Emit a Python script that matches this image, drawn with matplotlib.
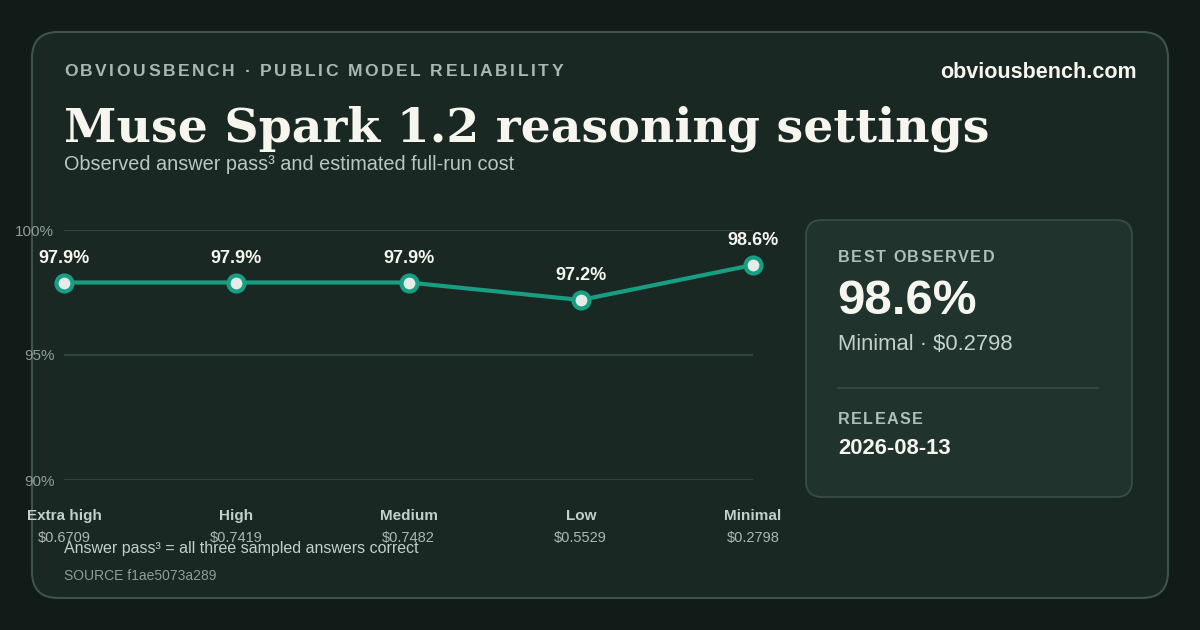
import matplotlib
matplotlib.use("Agg")
import matplotlib.pyplot as plt
from matplotlib.patches import FancyBboxPatch
from matplotlib.ticker import FuncFormatter
from matplotlib.transforms import blended_transform_factory

plt.rcParams['font.family'] = ['Liberation Sans', 'DejaVu Sans']

levels = ['Extra high', 'High', 'Medium', 'Low', 'Minimal']
costs = ['$0.6709', '$0.7419', '$0.7482', '$0.5529', '$0.2798']
pass3 = [97.9, 97.9, 97.9, 97.2, 98.6]
y_ticks = [90, 95, 100]

best_value = '98.6%'
best_detail = 'Minimal · $0.2798'
release = '2026-08-13'

W, H = 1200, 630
outer_bg = '#111b18'
card_bg = '#1a2823'
side_bg = '#21332d'
teal = '#179e83'
grid_c = '#30433c'
muted = '#8d9e96'
soft = '#b9c8c1'
white = '#f6f5ee'

fig = plt.figure(figsize=(W / 100, H / 100), dpi=100)
fig.patch.set_facecolor(outer_bg)
renderer = fig.canvas.get_renderer()

# backdrop axes in pixel units (y down)
bg = fig.add_axes([0, 0, 1, 1])
bg.set_xlim(0, W)
bg.set_ylim(H, 0)
bg.axis('off')


def text_w(s, **kw):
    t = bg.text(0, 0, s, **kw)
    w = t.get_window_extent(renderer).width
    t.remove()
    return w


def tracked(x, y, s, width, **kw):
    # letter-spaced label, spread to the given pixel width
    natural = text_w(s, **kw)
    track = (width - natural) / (len(s) - 1)
    for i, ch in enumerate(s):
        if ch == ' ':
            continue
        right = x + text_w(s[:i + 1], **kw) + i * track
        bg.text(right, y, ch, ha='right', va='center', **kw)


bg.add_patch(FancyBboxPatch((32, 32), 1136, 566, boxstyle='round,pad=0,rounding_size=26',
                            fc=card_bg, ec='#3e544b', lw=1.5))
bg.add_patch(FancyBboxPatch((806, 220), 326, 277, boxstyle='round,pad=0,rounding_size=16',
                            fc=side_bg, ec='#3a4f47', lw=1.2))

tracked(64, 72, 'OBVIOUSBENCH · PUBLIC MODEL RELIABILITY', 499, fontsize=12.6,
        fontweight='bold', color='#a8b9b1')
bg.text(1137, 72, 'obviousbench.com', fontsize=15.5, fontweight='bold', color=white,
        va='center', ha='right')

title = bg.text(64, 142, 'Muse Spark 1.2 reasoning settings', fontsize=36,
                fontweight='bold', family='DejaVu Serif', color=white,
                va='baseline', ha='left')
tw = title.get_window_extent(renderer).width
title.set_fontsize(36 * 924 / tw)

bg.text(64, 165, 'Observed answer pass³ and estimated full-run cost', fontsize=14.3,
        color=soft, va='center', ha='left')

# side panel
tracked(838, 257, 'BEST OBSERVED', 156, fontsize=11.6, fontweight='bold', color='#b0c0b9')
bg.text(837, 301, best_value, fontsize=35.5, fontweight='bold', color=white,
        va='center', ha='left')
bg.text(838, 345, best_detail, fontsize=15.8, color='#c5d2cc', va='center', ha='left')
bg.plot([838, 1098], [388, 388], color='#3a4e46', lw=1.2)
tracked(838, 419, 'RELEASE', 85, fontsize=11.6, fontweight='bold', color='#b0c0b9')
bg.text(838, 449, release, fontsize=15.8, fontweight='bold', color=white,
        va='center', ha='left')

# footnotes
bg.text(64, 549, 'Answer pass³ = all three sampled answers correct', fontsize=11.5,
        color='#c3cfc9', va='center', ha='left')
bg.text(64, 576, 'SOURCE f1ae5073a289', fontsize=10, color=muted, va='center', ha='left')

# chart
ax = fig.add_axes([64 / W, (H - 480) / H, (753 - 64) / W, 250 / H])
ax.set_facecolor('none')
xs = list(range(len(levels)))
ax.set_xlim(0, len(levels) - 1)
ax.set_ylim(90, 100)
for s in ax.spines.values():
    s.set_visible(False)
for t in y_ticks:
    ax.axhline(t, color=grid_c, lw=1.5, zorder=1)
ax.set_yticks(y_ticks)
ax.yaxis.set_major_formatter(FuncFormatter(lambda v, p: f'{v:.0f}%'))
ax.tick_params(axis='y', length=0, pad=7, labelsize=11, labelcolor=muted)
ax.set_xticks([])

ax.plot(xs, pass3, color=teal, lw=3, marker='o', ms=11.5, mfc='#e4ece8', mec=teal,
        mew=3, zorder=3, clip_on=False)
for x, v in zip(xs, pass3):
    ax.annotate(f'{v:.1f}%', (x, v), xytext=(0, 17.5), textcoords='offset points',
                ha='center', va='center', fontsize=13, fontweight='bold', color=white,
                zorder=4, annotation_clip=False)

tr = blended_transform_factory(ax.transData, ax.transAxes)
for x, lab, c in zip(xs, levels, costs):
    ax.text(x, -0.144, lab, transform=tr, ha='center', va='center', fontsize=11,
            fontweight='bold', color='#c2d0c9')
    ax.text(x, -0.232, c, transform=tr, ha='center', va='center', fontsize=10.5,
            color='#a9b8b1')

fig.savefig('out.png', dpi=100, facecolor=outer_bg)
